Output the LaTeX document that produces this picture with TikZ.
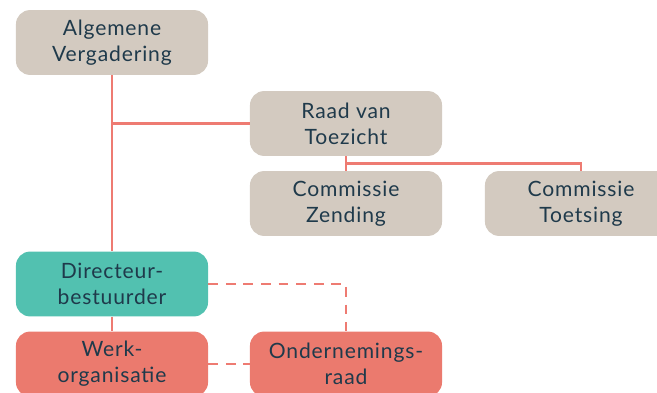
\documentclass[tikz,border=0pt]{standalone}
\usepackage{fontspec}
\setmainfont[LetterSpace=4]{Lato}
\usetikzlibrary{calc}

\definecolor{beige}{HTML}{D3CAC0}
\definecolor{teal}{HTML}{52C1B0}
\definecolor{salmon}{HTML}{EB7A6E}
\definecolor{linered}{HTML}{EE7B72}
\definecolor{textblue}{HTML}{1F3A4B}

\tikzset{
  orgbox/.style={rounded corners=10pt, minimum width=4.8cm, minimum height=1.62cm,
    align=center, text=textblue, font=\fontsize{15}{18.5}\selectfont, inner sep=0pt},
  link/.style={draw=linered, line width=1.9pt},
  dashlink/.style={link, dash pattern=on 7pt off 5.5pt}
}

\begin{document}
\begin{tikzpicture}[x=0.025cm,y=-0.025cm]
  % Canvas
  \useasboundingbox (0,0) rectangle (657,393);
  \clip (0,0) rectangle (657,393);

  % Boxes
  \node[orgbox, fill=beige] (av) at (112,42.5) {Algemene\\Vergadering};
  \node[orgbox, fill=beige] (rvt) at (346,123.5) {Raad van\\Toezicht};
  \node[orgbox, fill=beige] (cz) at (346,203.5) {Commissie\\Zending};
  \node[orgbox, fill=beige] (ct) at (581,203.5) {Commissie\\Toetsing};
  \node[orgbox, fill=teal] (db) at (112,284) {Directeur-\\bestuurder};
  \node[orgbox, fill=salmon] (wo) at (112,364) {Werk-\\organisatie};
  \node[orgbox, fill=salmon] (or) at (346,364) {Ondernemings-\\raad};

  % Solid lines
  \coordinate (split) at ($(rvt.south)!0.5!(cz.north)$);
  \draw[link] (av.south) -- (db.north);
  \draw[link] (av.south |- rvt.west) -- (rvt.west);
  \draw[link] (rvt.south) -- (cz.north);
  \draw[link] (split) -| (ct.north);
  \draw[link] (db.south) -- (wo.north);

  % Dashed lines
  \draw[dashlink] (db.east) -| (or.north);
  \draw[dashlink] (wo.east) -- (or.west);
\end{tikzpicture}
\end{document}
